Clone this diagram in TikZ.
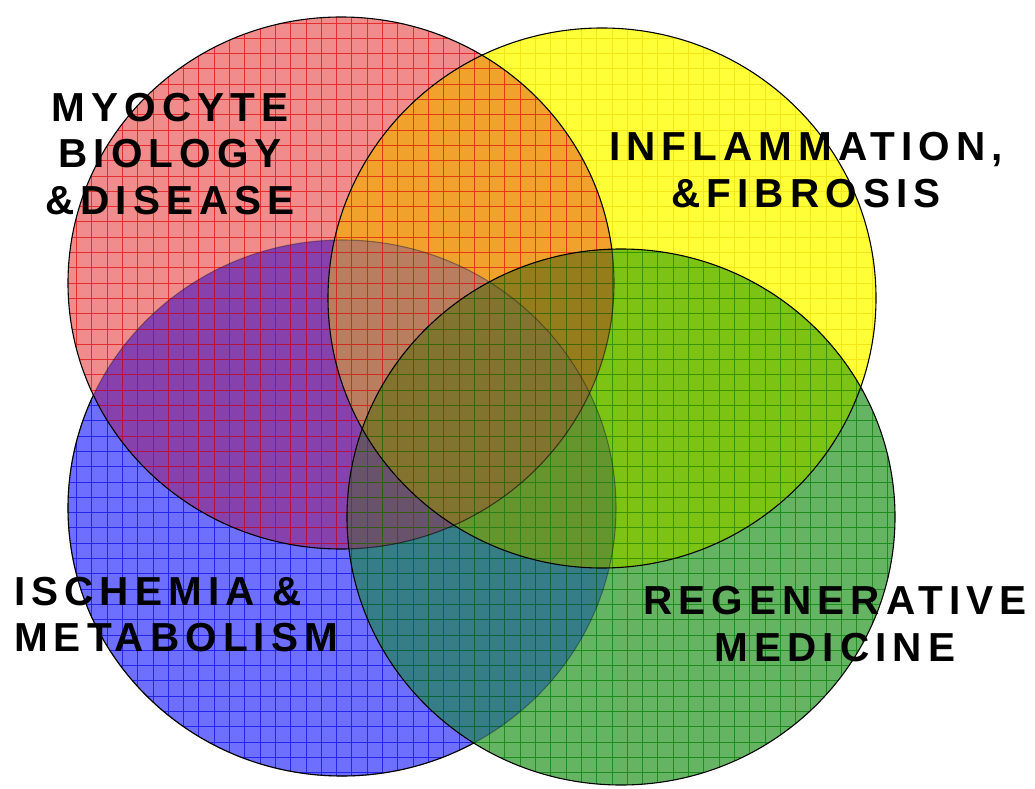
\documentclass[tikz,border=0pt]{standalone}
\usepackage{fontspec}
\setmainfont{Liberation Sans}
\newfontfamily\lblfont[LetterSpace=15]{Liberation Sans Bold}
% region colours
\definecolor{rR}{RGB}{241,140,140}
\definecolor{rY}{RGB}{255,255,55}
\definecolor{rB}{RGB}{110,110,255}
\definecolor{rG}{RGB}{100,180,100}
\definecolor{rRY}{RGB}{240,162,45}
\definecolor{rRB}{RGB}{135,65,172}
\definecolor{rBG}{RGB}{55,125,135}
\definecolor{rYG}{RGB}{125,195,20}
\definecolor{rRG}{RGB}{150,130,60}
\definecolor{rYB}{RGB}{170,170,120}
\definecolor{rRYB}{RGB}{185,125,95}
\definecolor{rRYG}{RGB}{150,125,28}
\definecolor{rRBG}{RGB}{105,82,108}
\definecolor{rYBG}{RGB}{100,150,45}
\definecolor{rRYBG}{RGB}{130,115,48}
% grid colours
\definecolor{gred}{RGB}{225,15,15}
\definecolor{gyel}{RGB}{235,210,0}
\definecolor{gblue}{RGB}{15,15,225}
\definecolor{ggreen}{RGB}{0,125,0}
\tikzset{
  cR/.style={insert path={(341,505) ellipse (273 and 266)}},
  cY/.style={insert path={(602,490) ellipse (274 and 270)}},
  cB/.style={insert path={(342,280) ellipse (274 and 268)}},
  cG/.style={insert path={(621,271) ellipse (274 and 268)}},
  outline/.style={draw=black, line width=1.1pt},
  gridline/.style={line width=0.9pt, step=15.3},
  lbl/.style={font=\lblfont\fontsize{40.5}{46.5}\selectfont, inner sep=0pt, text=black}
}
\begin{document}
\begin{tikzpicture}[x=1pt,y=1pt]
\useasboundingbox (0,0) rectangle (1035,788);
% ---- single regions
\fill[rB, cB];
\fill[rY, cY];
\fill[rR, cR];
\fill[rG, cG];
% ---- pairs
\begin{scope}\clip[cR];\fill[rRY, cY];\end{scope}
\begin{scope}\clip[cR];\fill[rRB, cB];\end{scope}
\begin{scope}\clip[cR];\fill[rRG, cG];\end{scope}
\begin{scope}\clip[cY];\fill[rYB, cB];\end{scope}
\begin{scope}\clip[cY];\fill[rYG, cG];\end{scope}
\begin{scope}\clip[cB];\fill[rBG, cG];\end{scope}
% ---- triples
\begin{scope}\clip[cR];\clip[cY];\fill[rRYB, cB];\end{scope}
\begin{scope}\clip[cR];\clip[cY];\fill[rRYG, cG];\end{scope}
\begin{scope}\clip[cR];\clip[cB];\fill[rRBG, cG];\end{scope}
\begin{scope}\clip[cY];\clip[cB];\fill[rYBG, cG];\end{scope}
% ---- all four
\begin{scope}\clip[cR];\clip[cY];\clip[cB];\fill[rRYBG, cG];\end{scope}
% ---- grids
\begin{scope}\clip[cB];\draw[gridline, gblue, opacity=0.75] (0,0) grid (1035,788);\end{scope}
\begin{scope}\clip[cY];\draw[gridline, gyel, opacity=0.55] (0,0) grid (1035,788);\end{scope}
\begin{scope}\clip[cR];\draw[gridline, gred, opacity=0.75] (0,0) grid (1035,788);\end{scope}
\begin{scope}\clip[cG];\draw[gridline, ggreen, opacity=0.7] (0,0) grid (1035,788);\end{scope}
% ---- outlines
% blue: faint where covered, black outside the other circles
\draw[outline, opacity=0.3, cB];
\begin{scope}[even odd rule]
  \clip (0,0) rectangle (1035,788) (341,505) ellipse (273 and 266);
  \clip (0,0) rectangle (1035,788) (602,490) ellipse (274 and 270);
  \clip (0,0) rectangle (1035,788) (621,271) ellipse (274 and 268);
  \draw[outline, cB];
\end{scope}
\draw[outline, cY];
% red: softer where under green
\begin{scope}[even odd rule]
  \clip (0,0) rectangle (1035,788) (621,271) ellipse (274 and 268);
  \draw[outline, cR];
\end{scope}
\begin{scope}
  \clip[cG];
  \draw[outline, opacity=0.55, cR];
\end{scope}
\draw[outline, cG];
% ---- labels
\node[lbl, align=center] (myo) at (170,634) {MYOCYTE\\BIOLOGY\\\&DISEASE};
\node[lbl, align=center] (infl) at (806,618) {INFLAMMATION,\\\&FIBROSIS};
\node[lbl, align=left, anchor=west] (isch) at (14,173.5) {ISCHEMIA \&\\METABOLISM};
\node[lbl, align=center] (regen) at (835,164) {REGENERATIVE\\MEDICINE};
\end{tikzpicture}
\end{document}
